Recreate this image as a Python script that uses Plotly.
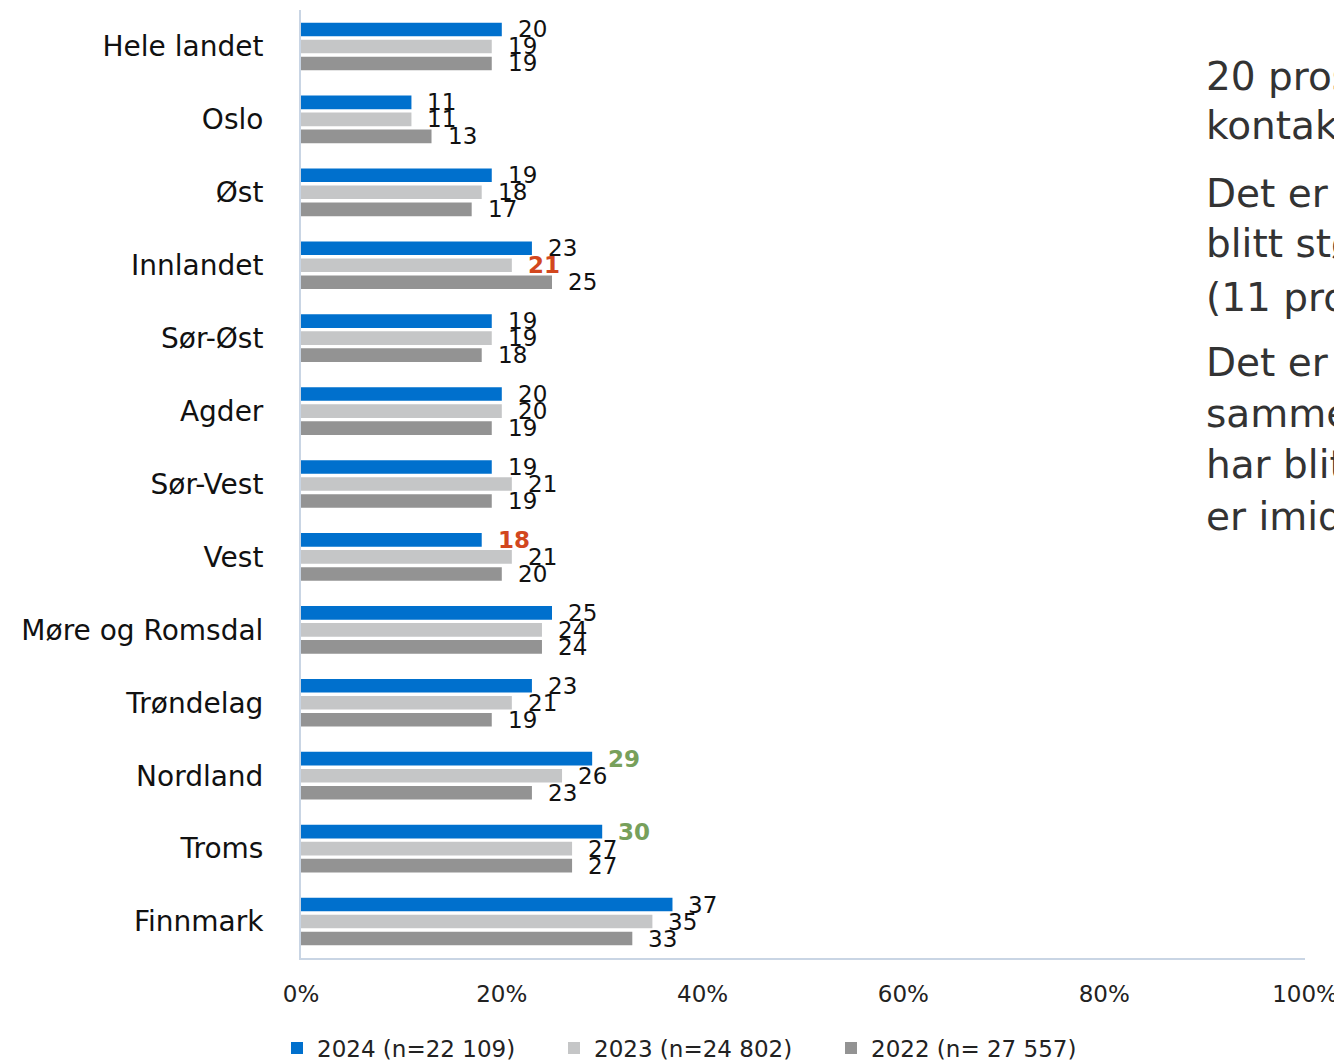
import plotly.graph_objects as go

categories = ["Hele landet", "Oslo", "Øst", "Innlandet", "Sør-Øst", "Agder", "Sør-Vest",
              "Vest", "Møre og Romsdal", "Trøndelag", "Nordland", "Troms", "Finnmark"]
v2024 = [20, 11, 19, 23, 19, 20, 19, 18, 25, 23, 29, 30, 37]
v2023 = [19, 11, 18, 21, 19, 20, 21, 21, 24, 21, 26, 27, 35]
v2022 = [19, 13, 17, 25, 18, 19, 19, 20, 24, 19, 23, 27, 33]
series_names = ["2024 (n=22 109)", "2023 (n=24 802)", "2022 (n= 27 557)"]
series_colors = ["#0070CD", "#C5C6C7", "#939393"]
x_ticks = [0, 20, 40, 60, 80, 100]
# highlighted labels: (series index, category) -> colour
highlights = {(1, "Innlandet"): "#D2471E", (0, "Vest"): "#D2471E",
              (0, "Nordland"): "#77A05B", (0, "Troms"): "#77A05B"}
side_text = ["20 prosent", "kontakt", "Det er", "blitt større", "(11 prosent)",
             "Det er", "sammenlignet", "har blitt", "er imidlertid"]

FONT = "DejaVu Sans"
W, H = 1334, 1056          # page body has an 8px margin
ML, MT, MR, MB = 293, 2, 37, 106
PW, PH = W - ML - MR, H - MT - MB

fig = go.Figure()
all_vals = [v2024, v2023, v2022]
for name, vals, col in zip(series_names, all_vals, series_colors):
    fig.add_trace(go.Bar(y=categories, x=vals, orientation="h", name=name,
                         marker=dict(color=col, line=dict(width=0))))

annotations = []
yshifts = [17, 0, -17]
for si, vals in enumerate(all_vals):
    for cat, v in zip(categories, vals):
        hl = highlights.get((si, cat))
        annotations.append(dict(
            x=v, y=cat, xref="x", yref="y", text=f"<b>{v}</b>" if hl else str(v),
            showarrow=False, xanchor="left", yanchor="middle", xshift=14,
            yshift=yshifts[si],
            font=dict(family=FONT, size=23, color=hl if hl else "#111111")))

# side text lines (page-pixel positions of the reference, converted to plot-domain fractions)
side_y = [76, 126, 193, 243, 297, 363, 413, 465, 517]
for t, py in zip(side_text, side_y):
    annotations.append(dict(x=(1204 - 8 - ML) / PW, y=(H - MB - (py - 8)) / PH,
                            xref="paper", yref="paper",
                            text=t, showarrow=False, xanchor="left", yanchor="middle",
                            font=dict(family=FONT, size=39, color="#333333")))

fig.update_layout(
    width=W, height=H,
    margin=dict(l=ML, r=MR, t=MT, b=MB, autoexpand=False),
    paper_bgcolor="white", plot_bgcolor="white",
    barmode="group", bargap=0.3, bargroupgap=0.2,
    font=dict(family=FONT, size=22, color="#222222"),
    xaxis=dict(range=[0, 100], tickvals=x_ticks, ticktext=[f"{t}%" for t in x_ticks],
               showgrid=False, zeroline=False, showline=True, linecolor="#C9D5E4",
               linewidth=2, ticks="", ticklabelstandoff=14, automargin=False,
               tickfont=dict(family=FONT, size=23, color="#222222")),
    yaxis=dict(categoryorder="array", categoryarray=categories, autorange="reversed",
               showgrid=False, zeroline=False, showline=True, linecolor="#C9D5E4",
               linewidth=2, ticks="", ticklabelstandoff=30, automargin=False,
               tickfont=dict(family=FONT, size=28, color="#111111")),
    legend=dict(orientation="h", xref="container", x=269 / W, xanchor="left",
                yref="container", y=0.015, yanchor="middle",
                font=dict(family=FONT, size=23, color="#222222"),
                entrywidth=232, itemwidth=30, traceorder="normal"),
    annotations=annotations,
    showlegend=True,
)

fig.write_html("out.html")
